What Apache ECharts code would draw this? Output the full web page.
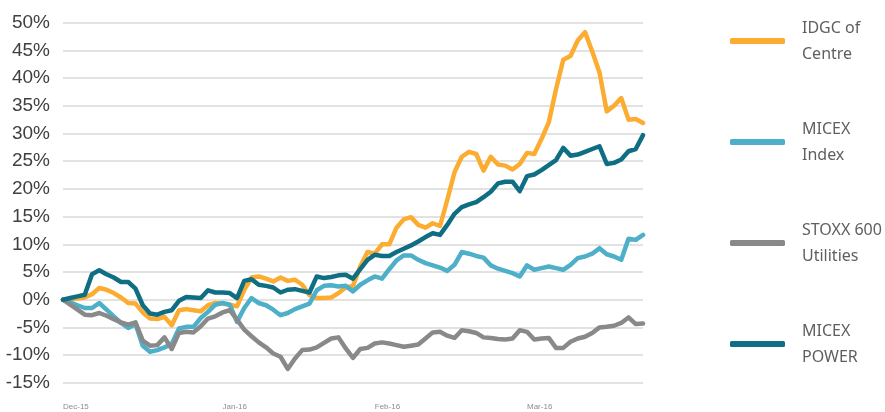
<!DOCTYPE html>
<html>
<head>
<meta charset="utf-8">
<script src="https://cdn.jsdelivr.net/npm/echarts@6/dist/echarts.min.js"></script>
<style>
  html, body { margin: 0; padding: 0; background: #fff; }
  #main { width: 885px; height: 412px; }
</style>
</head>
<body>
<div id="main"></div>
<script>
// trading days, Dec-15 .. late Mar-16 (81 points)
var days = [];
for (var n = 0; n < 81; n++) days.push(n);
// where the month labels sit
var monthLabels = { 0: 'Dec-15', 22: 'Jan-16', 43: 'Feb-16', 64: 'Mar-16' };

var yTicks = [-15, -10, -5, 0, 5, 10, 15, 20, 25, 30, 35, 40, 45, 50];

var idgc = [0, 0.1, 0.2, 0.4, 1.0, 2.1, 1.8, 1.2, 0.4, -0.6,
  -0.7, -2.3, -3.4, -3.5, -3.1, -4.6, -1.9, -1.7, -1.9, -2.1,
  -1.0, -0.6, -0.7, -0.9, -1.2, 1.8, 4.0, 4.2, 3.8, 3.3,
  4.0, 3.4, 3.6, 2.7, 0.8, 0.3, 0.3, 0.4, 1.2, 2.2,
  2.5, 6.0, 8.6, 8.3, 10.0, 10.0, 13.0, 14.5, 14.9, 13.5,
  13.0, 13.8, 13.3, 18.0, 23.0, 25.8, 26.7, 26.3, 23.3, 25.8,
  24.4, 24.2, 23.5, 24.5, 26.5, 26.3, 29.0, 32.0, 38.0, 43.3,
  44.0, 46.8, 48.3, 44.8, 41.0, 34.0, 35.0, 36.4, 32.5, 32.6, 31.9];

var micexIndex = [0, -0.5, -1.0, -1.5, -1.5, -0.6, -1.8, -3.0, -4.2, -5.1,
  -4.4, -8.3, -9.4, -9.1, -8.6, -8.0, -5.2, -4.9, -4.9, -3.3,
  -2.2, -0.9, -0.6, -0.9, -4.0, -1.5, 0.3, -0.6, -1.0, -1.8,
  -2.8, -2.4, -1.7, -1.2, -0.7, 1.7, 2.5, 2.6, 2.4, 2.5,
  1.5, 2.7, 3.5, 4.2, 3.8, 5.5, 7.1, 8.0, 8.0, 7.2,
  6.6, 6.2, 5.8, 5.2, 6.3, 8.6, 8.3, 7.9, 7.6, 6.2,
  5.6, 5.2, 4.8, 4.2, 6.2, 5.4, 5.7, 6.0, 5.7, 5.4,
  6.3, 7.5, 7.8, 8.3, 9.3, 8.2, 7.8, 7.2, 11.0, 10.8, 11.7];

var stoxxUtil = [0, -0.9, -1.8, -2.7, -2.8, -2.4, -2.9, -3.5, -4.1, -4.5,
  -4.1, -7.4, -8.3, -8.2, -6.8, -8.9, -6.0, -5.8, -5.9, -4.8,
  -3.4, -3.0, -2.3, -1.9, -3.6, -5.4, -6.6, -7.7, -8.6, -9.7,
  -10.3, -12.5, -10.6, -9.1, -9.0, -8.6, -7.8, -7.0, -6.8, -8.8,
  -10.5, -8.9, -8.7, -7.9, -7.7, -7.9, -8.2, -8.5, -8.3, -8.1,
  -7.0, -5.9, -5.8, -6.5, -6.9, -5.5, -5.7, -6.0, -6.8, -6.9,
  -7.1, -7.2, -7.0, -5.5, -5.8, -7.2, -7.0, -6.9, -8.7, -8.7,
  -7.6, -7.0, -6.7, -6.0, -5.0, -4.9, -4.7, -4.2, -3.2, -4.4, -4.3];

var micexPower = [0, 0.3, 0.6, 0.9, 4.6, 5.3, 4.6, 4.0, 3.2, 3.2,
  2.0, -1.0, -2.5, -2.7, -2.2, -1.9, -0.2, 0.5, 0.4, 0.3,
  1.7, 1.3, 1.3, 1.2, 0.3, 3.4, 3.7, 2.7, 2.5, 2.2,
  1.3, 1.8, 1.9, 1.6, 1.3, 4.2, 3.9, 4.1, 4.4, 4.5,
  3.8, 5.5, 7.2, 8.1, 7.9, 7.9, 8.6, 9.2, 9.8, 10.5,
  11.3, 12.0, 11.7, 13.5, 15.5, 16.7, 17.2, 17.6, 18.5, 19.5,
  21.0, 21.3, 21.3, 19.6, 22.3, 22.6, 23.4, 24.3, 25.2, 27.4,
  26.0, 26.2, 26.7, 27.2, 27.7, 24.5, 24.7, 25.3, 26.8, 27.2, 29.7];

var names = ['IDGC of Centre', 'MICEX Index', 'STOXX 600 Utilities', 'MICEX POWER'];
var legendText = {
  'IDGC of Centre': 'IDGC of\nCentre',
  'MICEX Index': 'MICEX\nIndex',
  'STOXX 600 Utilities': 'STOXX 600\nUtilities',
  'MICEX POWER': 'MICEX\nPOWER'
};
var colors = ['#fbac31', '#4eafc8', '#898989', '#0f6e84'];
var values = [idgc, micexIndex, stoxxUtil, micexPower];

var chart = echarts.init(document.getElementById('main'));

var series = names.map(function (nm, k) {
  return {
    name: nm,
    type: 'line',
    data: values[k],
    showSymbol: false,
    symbol: 'none',
    smooth: false,
    lineStyle: { color: colors[k], width: 4.5, cap: 'round', join: 'round' },
    itemStyle: { color: colors[k] },
    emphasis: { disabled: true }
  };
});

chart.setOption({
  animation: false,
  color: colors,
  grid: { left: 63, right: 242, top: 22.7, bottom: 29.2 },
  legend: {
    orient: 'vertical',
    left: 725,
    top: 10,
    itemWidth: 55,
    itemHeight: 6,
    itemGap: 49,
    icon: 'roundRect',
    data: names,
    formatter: function (nm) { return legendText[nm]; },
    textStyle: {
      fontFamily: '"Noto Sans", sans-serif',
      fontSize: 16,
      color: '#5f5f5f',
      lineHeight: 26,
      padding: [0, 0, 0, 12]
    }
  },
  xAxis: {
    type: 'category',
    data: days,
    boundaryGap: false,
    axisLine: { show: false },
    axisTick: { show: false },
    splitLine: { show: false },
    axisLabel: {
      interval: 0,
      align: 'left',
      margin: 20,
      fontSize: 8,
      color: '#8c8c8c',
      fontFamily: '"Liberation Sans", sans-serif',
      formatter: function (v, idx) { return monthLabels[idx] || ''; }
    }
  },
  yAxis: {
    type: 'value',
    min: yTicks[0],
    max: yTicks[yTicks.length - 1],
    interval: 5,
    axisLine: { show: false },
    axisTick: { show: false },
    splitLine: { lineStyle: { color: '#e2e2e2', width: 2 } },
    axisLabel: {
      margin: 13,
      fontSize: 19,
      color: '#404040',
      fontFamily: '"Liberation Sans Narrow", "Arial Narrow", "Liberation Sans", sans-serif',
      formatter: '{value}%'
    }
  },
  series: series
});
</script>
</body>
</html>
